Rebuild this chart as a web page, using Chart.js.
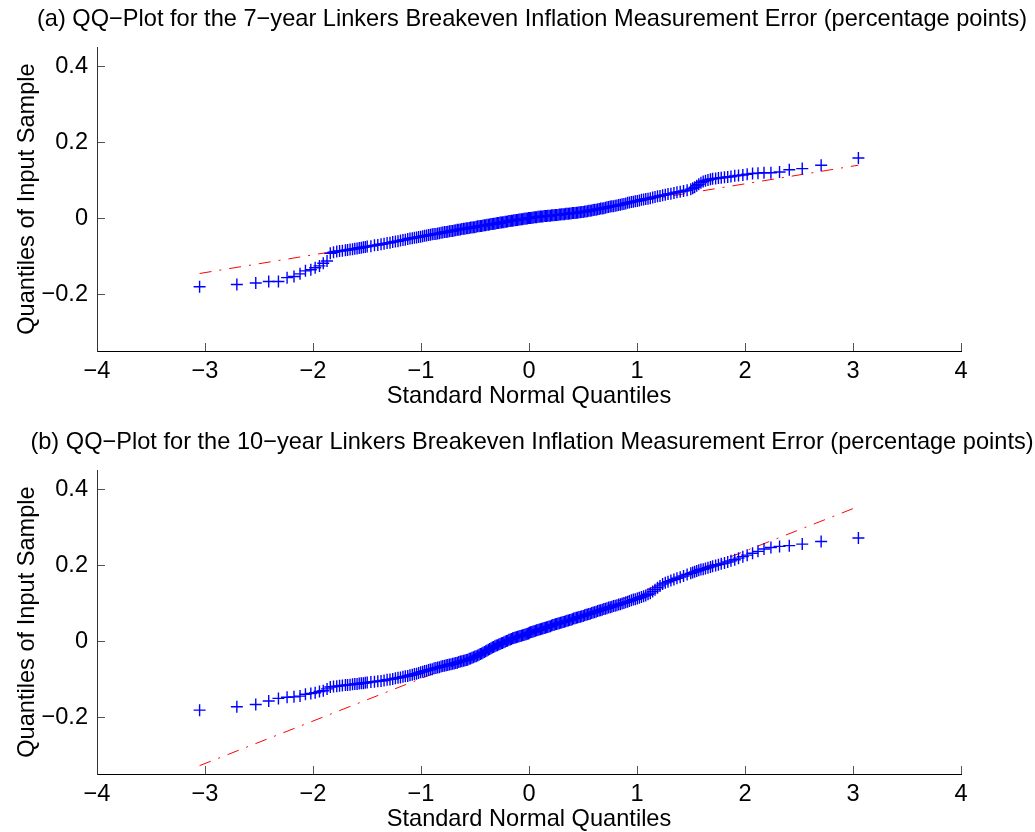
<!DOCTYPE html>
<html><head><meta charset="utf-8">
<script src="https://cdn.jsdelivr.net/npm/chart.js@4"></script>
<style>
html,body{margin:0;padding:0;background:#fff;overflow:hidden;width:1035px;height:832px;}
canvas{position:absolute;left:0;}
#c1{top:0px;} #c2{top:423px;}
</style></head><body>
<canvas id="c1" width="1035" height="413"></canvas>
<canvas id="c2" width="1035" height="413"></canvas>
<script>
// Standard normal quantiles (x positions of the plotted order statistics)
const normalQuantiles = [
-3.05,-2.705,-2.53,-2.41,-2.32,-2.24,-2.176,-2.12,-2.07,-2.02,
-1.98,-1.94,-1.905,-1.87,-1.84,-1.81,-1.78,-1.754,-1.728,-1.70,
-1.68,-1.657,-1.634,-1.613,-1.592,-1.572,-1.553,-1.534,-1.516,-1.498,
-1.464,-1.431,-1.400,-1.370,-1.342,-1.314,-1.287,-1.262,-1.237,-1.213,
-1.190,-1.167,-1.145,-1.123,-1.102,-1.081,-1.061,-1.041,-1.022,-1.003,
-0.984,-0.966,-0.948,-0.930,-0.913,-0.896,-0.879,-0.862,-0.846,-0.830,
-0.814,-0.798,-0.782,-0.767,-0.752,-0.737,-0.722,-0.707,-0.693,-0.678,
-0.664,-0.650,-0.636,-0.622,-0.608,-0.594,-0.581,-0.567,-0.554,-0.541,
-0.528,-0.515,-0.502,-0.489,-0.476,-0.463,-0.451,-0.438,-0.426,-0.413,
-0.401,-0.389,-0.376,-0.364,-0.352,-0.340,-0.328,-0.316,-0.304,-0.292,
-0.280,-0.268,-0.256,-0.245,-0.233,-0.221,-0.210,-0.198,-0.186,-0.174,
-0.163,-0.151,-0.140,-0.128,-0.117,-0.106,-0.094,-0.083,-0.071,-0.060,
-0.048,-0.037,-0.026,-0.014,-0.003,
0.003,0.014,0.026,0.037,0.048,0.060,0.071,0.083,0.094,0.106,
0.117,0.128,0.140,0.151,0.163,0.174,0.186,0.198,0.210,0.221,
0.233,0.245,0.256,0.268,0.280,0.292,0.304,0.316,0.328,0.340,
0.352,0.364,0.376,0.389,0.401,0.413,0.426,0.438,0.451,0.463,
0.476,0.489,0.502,0.515,0.528,0.541,0.554,0.567,0.581,0.594,
0.608,0.622,0.636,0.650,0.664,0.678,0.693,0.707,0.722,0.737,
0.752,0.767,0.782,0.798,0.814,0.830,0.846,0.862,0.879,0.896,
0.913,0.930,0.948,0.966,0.984,1.003,1.022,1.041,1.061,1.081,
1.102,1.123,1.145,1.167,1.190,1.213,1.237,1.262,1.287,1.314,
1.342,1.370,1.400,1.431,1.464,
1.498,1.516,1.534,1.553,1.572,1.592,1.613,1.634,1.657,1.68,
1.70,1.728,1.754,1.78,1.81,1.84,1.87,1.905,1.94,1.98,
2.02,2.07,2.12,2.176,2.24,2.32,2.41,2.53,2.705,3.05
];
// (a) 7-year measurement error: sample quantiles
const error7y = [
-0.181,-0.175,-0.171,-0.167,-0.167,-0.157,-0.154,-0.147,-0.139,-0.136,
-0.131,-0.126,-0.119,-0.113,-0.093,-0.090,-0.088,-0.087,-0.086,-0.085,
-0.084,-0.083,-0.082,-0.081,-0.080,-0.079,-0.078,-0.077,-0.076,-0.075,
-0.074,-0.072,-0.071,-0.069,-0.068,-0.066,-0.065,-0.063,-0.062,-0.061,
-0.059,-0.058,-0.057,-0.055,-0.054,-0.053,-0.052,-0.051,-0.050,-0.049,
-0.048,-0.047,-0.046,-0.045,-0.044,-0.043,-0.042,-0.042,-0.041,-0.040,
-0.039,-0.038,-0.037,-0.037,-0.036,-0.035,-0.034,-0.034,-0.033,-0.032,
-0.031,-0.031,-0.030,-0.029,-0.028,-0.028,-0.027,-0.027,-0.026,-0.025,
-0.025,-0.024,-0.024,-0.023,-0.022,-0.022,-0.021,-0.021,-0.020,-0.019,
-0.019,-0.018,-0.018,-0.017,-0.016,-0.016,-0.015,-0.015,-0.014,-0.013,
-0.013,-0.012,-0.012,-0.011,-0.011,-0.010,-0.010,-0.009,-0.008,-0.008,
-0.007,-0.007,-0.006,-0.006,-0.005,-0.005,-0.004,-0.004,-0.003,-0.003,
-0.002,-0.002,-0.001,-0.001,0.000,
0.000,0.000,0.001,0.001,0.002,0.002,0.002,0.003,0.003,0.004,
0.004,0.004,0.005,0.005,0.005,0.006,0.006,0.006,0.007,0.007,
0.007,0.008,0.008,0.008,0.009,0.009,0.010,0.010,0.010,0.011,
0.011,0.011,0.012,0.012,0.013,0.013,0.013,0.014,0.014,0.015,
0.015,0.016,0.016,0.017,0.017,0.018,0.019,0.019,0.020,0.021,
0.022,0.022,0.023,0.024,0.025,0.025,0.026,0.027,0.028,0.029,
0.030,0.031,0.031,0.032,0.033,0.034,0.035,0.036,0.037,0.038,
0.040,0.041,0.042,0.043,0.044,0.045,0.046,0.048,0.049,0.050,
0.051,0.052,0.054,0.055,0.057,0.058,0.060,0.061,0.063,0.064,
0.066,0.068,0.069,0.071,0.073,
0.076,0.078,0.081,0.085,0.089,0.093,0.096,0.098,0.100,0.102,
0.103,0.104,0.105,0.106,0.107,0.108,0.109,0.111,0.112,0.113,
0.115,0.117,0.118,0.119,0.119,0.121,0.127,0.130,0.139,0.158
];
// (b) 10-year measurement error: sample quantiles
const error10y = [
-0.182,-0.173,-0.167,-0.158,-0.151,-0.148,-0.147,-0.145,-0.140,-0.138,
-0.136,-0.133,-0.131,-0.126,-0.121,-0.120,-0.119,-0.118,-0.117,-0.116,
-0.1155,-0.115,-0.114,-0.113,-0.113,-0.112,-0.111,-0.111,-0.110,-0.109,
-0.108,-0.107,-0.106,-0.105,-0.104,-0.102,-0.101,-0.100,-0.098,-0.097,
-0.096,-0.094,-0.093,-0.092,-0.090,-0.089,-0.087,-0.086,-0.084,-0.082,
-0.081,-0.079,-0.078,-0.076,-0.075,-0.074,-0.072,-0.071,-0.070,-0.069,
-0.067,-0.066,-0.065,-0.064,-0.063,-0.062,-0.061,-0.060,-0.059,-0.058,
-0.057,-0.055,-0.054,-0.053,-0.052,-0.051,-0.050,-0.049,-0.047,-0.046,
-0.044,-0.043,-0.041,-0.040,-0.038,-0.036,-0.034,-0.033,-0.031,-0.029,
-0.027,-0.025,-0.023,-0.021,-0.019,-0.017,-0.016,-0.014,-0.012,-0.011,
-0.009,-0.008,-0.006,-0.005,-0.003,-0.002,0.000,0.001,0.003,0.004,
0.005,0.007,0.008,0.009,0.010,0.011,0.012,0.013,0.014,0.015,
0.016,0.017,0.018,0.019,0.020,
0.022,0.023,0.024,0.025,0.026,0.027,0.028,0.029,0.030,0.031,
0.032,0.033,0.034,0.035,0.036,0.037,0.038,0.039,0.041,0.042,
0.043,0.044,0.045,0.046,0.047,0.048,0.049,0.050,0.051,0.052,
0.053,0.054,0.055,0.056,0.057,0.059,0.060,0.061,0.062,0.063,
0.064,0.065,0.066,0.068,0.069,0.070,0.071,0.072,0.074,0.075,
0.076,0.077,0.079,0.080,0.081,0.082,0.084,0.085,0.086,0.088,
0.089,0.090,0.092,0.093,0.094,0.096,0.097,0.099,0.100,0.102,
0.103,0.105,0.107,0.109,0.110,0.112,0.114,0.116,0.118,0.120,
0.123,0.126,0.130,0.135,0.140,0.145,0.150,0.153,0.156,0.159,
0.162,0.165,0.168,0.171,0.175,
0.178,0.180,0.182,0.184,0.186,0.188,0.189,0.191,0.193,0.195,
0.197,0.199,0.201,0.203,0.205,0.208,0.211,0.214,0.218,0.222,
0.226,0.231,0.236,0.242,0.246,0.249,0.251,0.255,0.262,0.271
];
// Reference lines (through the quartiles, extended over the data range)
const refLineX = [-3.05, 3.05];
const refLine7y = [-0.146, 0.139];
const refLine10y = [-0.328, 0.354];

const xTicks = [-4, -3, -2, -1, 0, 1, 2, 3, 4];
const yTicks = [-0.2, 0, 0.2, 0.4];
const xRange = [-4, 4];
const yRange = [-0.35, 0.45];

const titles = [
  '(a) QQ\u2212Plot for the 7\u2212year Linkers Breakeven Inflation Measurement Error (percentage points)',
  '(b) QQ\u2212Plot for the 10\u2212year Linkers Breakeven Inflation Measurement Error (percentage points)'
];
const xLabel = 'Standard Normal Quantiles';
const yLabel = 'Quantiles of Input Sample';

const FONT = {family: "'Liberation Sans', Arial, Helvetica, sans-serif", size: 23.6, weight: 'normal'};
const fmt = v => String(Math.round(v * 10) / 10).replace('-', '\u2212');

function makeChart(id, title, ys, lineYs) {
  const n = Math.min(normalQuantiles.length, ys.length);
  const pts = [];
  for (let i = 0; i < n; i++) pts.push({x: normalQuantiles[i], y: ys[i]});
  const line = refLineX.map((x, i) => ({x: x, y: lineYs[i]}));
  return new Chart(document.getElementById(id), {
    type: 'scatter',
    data: {
      datasets: [
        {
          data: pts, order: 0, showLine: false, yAxisID: 'y',
          pointStyle: 'cross', pointRadius: 6, pointHoverRadius: 6,
          pointBorderColor: 'rgb(0,0,255)', pointBackgroundColor: 'rgb(0,0,255)', pointBorderWidth: 1.4
        },
        {
          data: line, order: 1, showLine: true, pointRadius: 0, yAxisID: 'y',
          borderColor: 'rgb(255,0,0)', borderWidth: 1, borderDash: [12, 8, 2, 8], fill: false
        }
      ]
    },
    options: {
      responsive: false, animation: false, devicePixelRatio: 1, events: [],
      layout: {padding: {left: 29, right: 0, top: 0, bottom: 0}},
      plugins: {
        legend: {display: false}, tooltip: {enabled: false},
        title: {display: true, text: title, fullSize: true, color: '#000', font: FONT,
                padding: {top: 5.8, bottom: 12.9}}
      },
      scales: {
        x: {
          type: 'linear', min: xRange[0], max: xRange[1],
          afterBuildTicks: s => { s.ticks = xTicks.map(v => ({value: v})); },
          afterFit: s => { s.height = 62; },
          grid: {drawOnChartArea: false, drawTicks: true, tickLength: -8, color: '#555', lineWidth: 1},
          border: {display: true, color: '#000', width: 1},
          ticks: {padding: 14, color: '#000', font: FONT, autoSkip: false, maxRotation: 0, callback: v => fmt(v)},
          title: {display: true, text: xLabel, color: '#000', font: FONT, padding: {top: 0, bottom: 2}}
        },
        y: {
          type: 'linear', position: 'left', min: yRange[0], max: yRange[1],
          afterBuildTicks: s => { s.ticks = yTicks.map(v => ({value: v})); },
          afterFit: s => { s.width = 68; },
          grid: {drawOnChartArea: false, drawTicks: true, tickLength: -8, color: '#555', lineWidth: 1},
          border: {display: true, color: '#333', width: 1},
          ticks: {padding: 17, color: '#000', font: FONT, autoSkip: false, callback: v => fmt(v)},
          title: {display: true, text: yLabel, color: '#000', font: FONT, padding: {top: -15.2, bottom: 0}}
        },
        yRight: {
          type: 'linear', position: 'right', min: yRange[0], max: yRange[1], display: true,
          afterFit: s => { s.width = 74; },
          grid: {display: false}, border: {display: false}, ticks: {display: false}
        }
      }
    }
  });
}

makeChart('c1', titles[0], error7y, refLine7y);
makeChart('c2', titles[1], error10y, refLine10y);
</script>
</body></html>
